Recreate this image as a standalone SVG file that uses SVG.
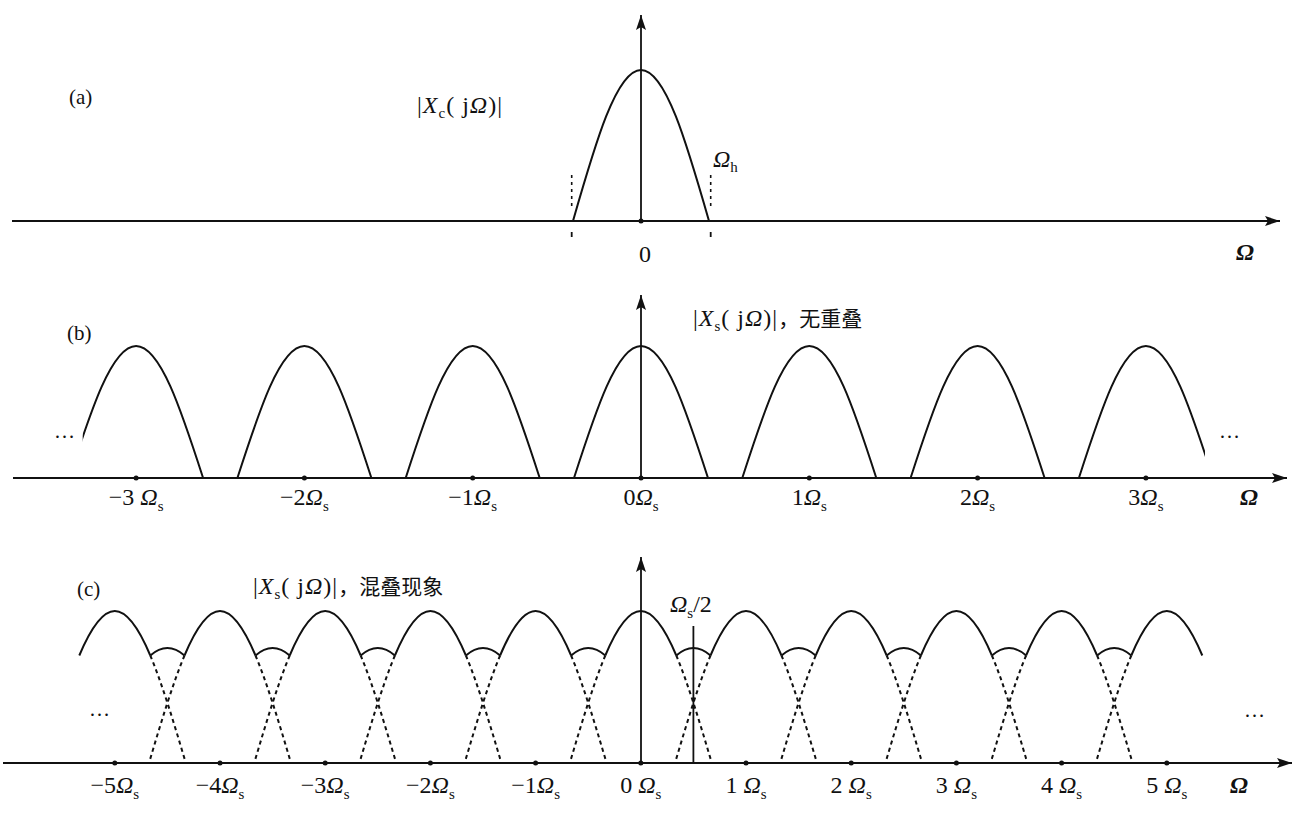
<svg xmlns="http://www.w3.org/2000/svg" xmlns:xlink="http://www.w3.org/1999/xlink" width="1304" height="815" viewBox="0 0 1304 815">
<style>
.ax{stroke:#111;stroke-width:1.8;fill:none}
.cv{stroke:#111;stroke-width:2;fill:none}
.ds{stroke:#111;stroke-width:2;fill:none;stroke-dasharray:4 3.5}
.dt{stroke:#111;stroke-width:1.6;fill:none;stroke-dasharray:3 4}
.dot{fill:#111}
text{font-family:"Liberation Serif","Noto Sans CJK SC",serif;fill:#111;font-size:24px}
.it{font-style:italic}
.sub{font-size:15px}
.om{font-style:italic;font-weight:bold}
.cjk{font-family:"Noto Sans CJK SC",serif;font-size:21px}
.pl{font-size:21px}
</style>
<defs>
<marker id="arr" markerUnits="userSpaceOnUse" markerWidth="16" markerHeight="11" refX="15" refY="5" orient="auto">
<path d="M0,0 L15,5 L0,10 L3,5 z" fill="#111"/>
</marker>
<path id="bb" d="M -67,0 C -45.2,-67.6 -24.2,-132 0,-132 C 24.2,-132 45.2,-67.6 67,0"/>
<path id="ct" d="M -35.5,-107.5 C -23.67,-135.6 -11.83,-152 0,-152 C 11.83,-152 23.67,-135.6 35.5,-107.5"/>
<path id="ctl" d="M -35.5,-107.5 C -47.33,-79.3 -59.17,-39.8 -71,0"/>
<path id="ctr" d="M 35.5,-107.5 C 47.33,-79.3 59.17,-39.8 71,0"/>
<path id="arch" d="M 35.5,-107.5 Q 52.6,-122.5 69.7,-107.5"/>
<clipPath id="clipb"><rect x="82.7" y="280" width="1122.3" height="210"/></clipPath>
</defs>

<g id="panel-a">
<text x="69" y="104" class="pl">(a)</text>
<text x="417" y="113" letter-spacing="1">|<tspan class="it">X</tspan><tspan class="sub" dy="5">c</tspan><tspan dy="-5">( j</tspan><tspan class="it">Ω</tspan>)|</text>
<text x="713" y="167" class="it" font-size="22">Ω<tspan class="sub" font-style="normal" dy="5" font-size="13">h</tspan></text>
<text x="645" y="262" text-anchor="middle">0</text>
<text x="1245" y="260" text-anchor="middle" class="om">Ω</text>
<path class="cv" d="M 573,221 C 595.2,143.6 616.4,70 641,70 C 665.6,70 686.8,143.6 709,221"/>
<line class="dt" x1="571.7" y1="175" x2="571.7" y2="208"/>
<line class="dt" x1="710.7" y1="175" x2="710.7" y2="208"/>
<line class="ax" x1="571.7" y1="232" x2="571.7" y2="237"/>
<line class="ax" x1="710.7" y1="232" x2="710.7" y2="237"/>
<line class="ax" x1="12" y1="221" x2="1280" y2="221" marker-end="url(#arr)"/>
<line class="ax" x1="641" y1="221" x2="641" y2="15" marker-end="url(#arr)"/>
<circle class="dot" cx="641" cy="221" r="2.5"/>
</g>

<g id="panel-b">
<text x="67" y="340" class="pl">(b)</text>
<text x="693" y="326" letter-spacing="1">|<tspan class="it">X</tspan><tspan class="sub" dy="5">s</tspan><tspan dy="-5">( j</tspan><tspan class="it">Ω</tspan>)|<tspan class="cjk" letter-spacing="0">，无重叠</tspan></text>
<g clip-path="url(#clipb)" class="cv">
<use xlink:href="#bb" href="#bb" x="136.1" y="478"/>
<use xlink:href="#bb" href="#bb" x="304.4" y="478"/>
<use xlink:href="#bb" href="#bb" x="472.7" y="478"/>
<use xlink:href="#bb" href="#bb" x="641" y="478"/>
<use xlink:href="#bb" href="#bb" x="809.3" y="478"/>
<use xlink:href="#bb" href="#bb" x="977.6" y="478"/>
<use xlink:href="#bb" href="#bb" x="1145.9" y="478"/>
</g>
<line class="ax" x1="13" y1="478" x2="1287" y2="478" marker-end="url(#arr)"/>
<line class="ax" x1="641" y1="478" x2="641" y2="295" marker-end="url(#arr)"/>
<g class="dot">
<circle cx="136.1" cy="478" r="2.5"/><circle cx="304.4" cy="478" r="2.5"/><circle cx="472.7" cy="478" r="2.5"/><circle cx="641" cy="478" r="2.5"/><circle cx="809.3" cy="478" r="2.5"/><circle cx="977.6" cy="478" r="2.5"/><circle cx="1145.9" cy="478" r="2.5"/>
</g>
<text x="54" y="438" class="pl">…</text>
<text x="1219" y="438" class="pl">…</text>
<g text-anchor="middle">
<text x="136.1" y="505">−3 <tspan class="it">Ω</tspan><tspan class="sub" dy="6">s</tspan></text>
<text x="304.4" y="505">−2<tspan class="it">Ω</tspan><tspan class="sub" dy="6">s</tspan></text>
<text x="472.7" y="505">−1<tspan class="it">Ω</tspan><tspan class="sub" dy="6">s</tspan></text>
<text x="641" y="505">0<tspan class="it">Ω</tspan><tspan class="sub" dy="6">s</tspan></text>
<text x="809.3" y="505">1<tspan class="it">Ω</tspan><tspan class="sub" dy="6">s</tspan></text>
<text x="977.6" y="505">2<tspan class="it">Ω</tspan><tspan class="sub" dy="6">s</tspan></text>
<text x="1145.9" y="505">3<tspan class="it">Ω</tspan><tspan class="sub" dy="6">s</tspan></text>
<text x="1249" y="505" class="om">Ω</text>
</g>
</g>

<g id="panel-c">
<text x="77" y="596" class="pl">(c)</text>
<text x="253" y="594" letter-spacing="1">|<tspan class="it">X</tspan><tspan class="sub" dy="5">s</tspan><tspan dy="-5">( j</tspan><tspan class="it">Ω</tspan>)|<tspan class="cjk" letter-spacing="0">，混叠现象</tspan></text>
<g class="cv">
<use href="#ct" x="114.8" y="763"/><use href="#ct" x="220" y="763"/><use href="#ct" x="325.2" y="763"/><use href="#ct" x="430.4" y="763"/><use href="#ct" x="535.6" y="763"/><use href="#ct" x="640.8" y="763"/><use href="#ct" x="746" y="763"/><use href="#ct" x="851.2" y="763"/><use href="#ct" x="956.4" y="763"/><use href="#ct" x="1061.6" y="763"/><use href="#ct" x="1166.8" y="763"/>
<use href="#arch" x="114.8" y="763"/><use href="#arch" x="220" y="763"/><use href="#arch" x="325.2" y="763"/><use href="#arch" x="430.4" y="763"/><use href="#arch" x="535.6" y="763"/><use href="#arch" x="640.8" y="763"/><use href="#arch" x="746" y="763"/><use href="#arch" x="851.2" y="763"/><use href="#arch" x="956.4" y="763"/><use href="#arch" x="1061.6" y="763"/>
</g>
<g class="ds">
<use href="#ctr" x="114.8" y="763"/><use href="#ctr" x="220" y="763"/><use href="#ctr" x="325.2" y="763"/><use href="#ctr" x="430.4" y="763"/><use href="#ctr" x="535.6" y="763"/><use href="#ctr" x="640.8" y="763"/><use href="#ctr" x="746" y="763"/><use href="#ctr" x="851.2" y="763"/><use href="#ctr" x="956.4" y="763"/><use href="#ctr" x="1061.6" y="763"/>
<use href="#ctl" x="220" y="763"/><use href="#ctl" x="325.2" y="763"/><use href="#ctl" x="430.4" y="763"/><use href="#ctl" x="535.6" y="763"/><use href="#ctl" x="640.8" y="763"/><use href="#ctl" x="746" y="763"/><use href="#ctl" x="851.2" y="763"/><use href="#ctl" x="956.4" y="763"/><use href="#ctl" x="1061.6" y="763"/><use href="#ctl" x="1166.8" y="763"/>
</g>
<line class="ax" x1="3" y1="763" x2="1292" y2="763" marker-end="url(#arr)"/>
<line class="ax" x1="641" y1="763" x2="641" y2="557" marker-end="url(#arr)"/>
<line class="ax" x1="693.4" y1="626" x2="693.4" y2="763"/>
<text x="670" y="612" class="it">Ω<tspan class="sub" font-style="normal" dy="6">s</tspan><tspan font-style="normal" dy="-6">/2</tspan></text>
<g class="dot">
<circle cx="114.8" cy="763" r="2.5"/><circle cx="220" cy="763" r="2.5"/><circle cx="325.2" cy="763" r="2.5"/><circle cx="430.4" cy="763" r="2.5"/><circle cx="535.6" cy="763" r="2.5"/><circle cx="640.8" cy="763" r="2.5"/><circle cx="746" cy="763" r="2.5"/><circle cx="851.2" cy="763" r="2.5"/><circle cx="956.4" cy="763" r="2.5"/><circle cx="1061.6" cy="763" r="2.5"/><circle cx="1166.8" cy="763" r="2.5"/>
</g>
<text x="89" y="716" class="pl">…</text>
<text x="1244" y="717" class="pl">…</text>
<g text-anchor="middle">
<text x="114.8" y="793">−5<tspan class="it">Ω</tspan><tspan class="sub" dy="6">s</tspan></text>
<text x="220" y="793">−4<tspan class="it">Ω</tspan><tspan class="sub" dy="6">s</tspan></text>
<text x="325.2" y="793">−3<tspan class="it">Ω</tspan><tspan class="sub" dy="6">s</tspan></text>
<text x="430.4" y="793">−2<tspan class="it">Ω</tspan><tspan class="sub" dy="6">s</tspan></text>
<text x="535.6" y="793">−1<tspan class="it">Ω</tspan><tspan class="sub" dy="6">s</tspan></text>
<text x="640.8" y="793">0 <tspan class="it">Ω</tspan><tspan class="sub" dy="6">s</tspan></text>
<text x="746" y="793">1 <tspan class="it">Ω</tspan><tspan class="sub" dy="6">s</tspan></text>
<text x="851.2" y="793">2 <tspan class="it">Ω</tspan><tspan class="sub" dy="6">s</tspan></text>
<text x="956.4" y="793">3 <tspan class="it">Ω</tspan><tspan class="sub" dy="6">s</tspan></text>
<text x="1061.6" y="793">4 <tspan class="it">Ω</tspan><tspan class="sub" dy="6">s</tspan></text>
<text x="1166.8" y="793">5 <tspan class="it">Ω</tspan><tspan class="sub" dy="6">s</tspan></text>
<text x="1239" y="793" class="om">Ω</text>
</g>
</g>
</svg>
